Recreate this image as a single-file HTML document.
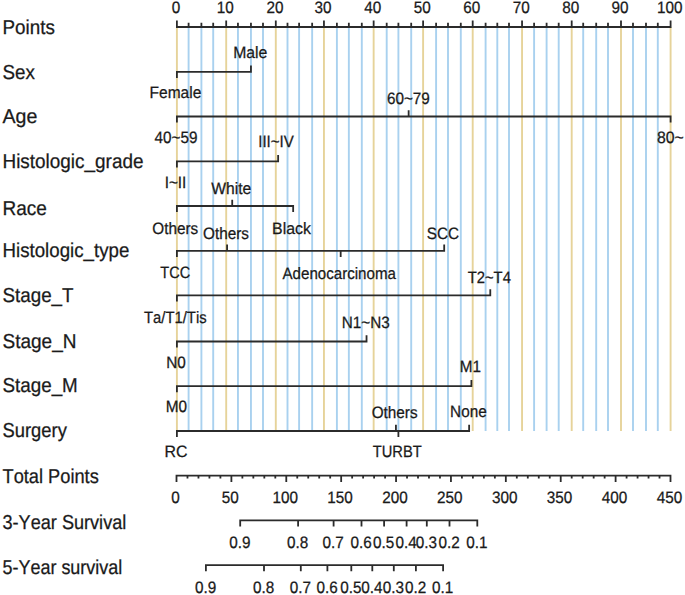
<!DOCTYPE html>
<html><head><meta charset="utf-8"><style>
html,body{margin:0;padding:0;background:#fff;}
body{width:685px;height:595px;overflow:hidden;font-family:"Liberation Sans", sans-serif;}
svg{display:block;}
</style></head><body>
<svg width="685" height="595" viewBox="0 0 685 595"><rect width="685" height="595" fill="#fff"/><g><line x1="176.90" y1="27.00" x2="176.90" y2="431.00" stroke="#e6d39a" stroke-width="1.9"/><line x1="188.60" y1="27.00" x2="188.60" y2="431.00" stroke="#a9d1ef" stroke-width="1.9"/><line x1="201.40" y1="27.00" x2="201.40" y2="431.00" stroke="#a9d1ef" stroke-width="1.9"/><line x1="213.20" y1="27.00" x2="213.20" y2="431.00" stroke="#a9d1ef" stroke-width="1.9"/><line x1="226.20" y1="27.00" x2="226.20" y2="431.00" stroke="#e6d39a" stroke-width="1.9"/><line x1="237.95" y1="27.00" x2="237.95" y2="431.00" stroke="#a9d1ef" stroke-width="1.9"/><line x1="250.95" y1="27.00" x2="250.95" y2="431.00" stroke="#a9d1ef" stroke-width="1.9"/><line x1="263.00" y1="27.00" x2="263.00" y2="431.00" stroke="#a9d1ef" stroke-width="1.9"/><line x1="275.80" y1="27.00" x2="275.80" y2="431.00" stroke="#e6d39a" stroke-width="1.9"/><line x1="287.50" y1="27.00" x2="287.50" y2="431.00" stroke="#a9d1ef" stroke-width="1.9"/><line x1="299.10" y1="27.00" x2="299.10" y2="431.00" stroke="#a9d1ef" stroke-width="1.9"/><line x1="312.15" y1="27.00" x2="312.15" y2="431.00" stroke="#a9d1ef" stroke-width="1.9"/><line x1="323.95" y1="27.00" x2="323.95" y2="431.00" stroke="#e6d39a" stroke-width="1.9"/><line x1="336.90" y1="27.00" x2="336.90" y2="431.00" stroke="#a9d1ef" stroke-width="1.9"/><line x1="348.85" y1="27.00" x2="348.85" y2="431.00" stroke="#a9d1ef" stroke-width="1.9"/><line x1="361.80" y1="27.00" x2="361.80" y2="431.00" stroke="#a9d1ef" stroke-width="1.9"/><line x1="373.65" y1="27.00" x2="373.65" y2="431.00" stroke="#e6d39a" stroke-width="1.9"/><line x1="386.70" y1="27.00" x2="386.70" y2="431.00" stroke="#a9d1ef" stroke-width="1.9"/><line x1="398.40" y1="27.00" x2="398.40" y2="431.00" stroke="#a9d1ef" stroke-width="1.9"/><line x1="411.20" y1="27.00" x2="411.20" y2="431.00" stroke="#a9d1ef" stroke-width="1.9"/><line x1="423.10" y1="27.00" x2="423.10" y2="431.00" stroke="#e6d39a" stroke-width="1.9"/><line x1="436.10" y1="27.00" x2="436.10" y2="431.00" stroke="#a9d1ef" stroke-width="1.9"/><line x1="448.00" y1="27.00" x2="448.00" y2="431.00" stroke="#a9d1ef" stroke-width="1.9"/><line x1="460.80" y1="27.00" x2="460.80" y2="431.00" stroke="#a9d1ef" stroke-width="1.9"/><line x1="472.70" y1="27.00" x2="472.70" y2="431.00" stroke="#e6d39a" stroke-width="1.9"/><line x1="485.60" y1="27.00" x2="485.60" y2="431.00" stroke="#a9d1ef" stroke-width="1.9"/><line x1="497.30" y1="27.00" x2="497.30" y2="431.00" stroke="#a9d1ef" stroke-width="1.9"/><line x1="509.00" y1="27.00" x2="509.00" y2="431.00" stroke="#a9d1ef" stroke-width="1.9"/><line x1="522.05" y1="27.00" x2="522.05" y2="431.00" stroke="#e6d39a" stroke-width="1.9"/><line x1="534.10" y1="27.00" x2="534.10" y2="431.00" stroke="#a9d1ef" stroke-width="1.9"/><line x1="546.60" y1="27.00" x2="546.60" y2="431.00" stroke="#a9d1ef" stroke-width="1.9"/><line x1="558.70" y1="27.00" x2="558.70" y2="431.00" stroke="#a9d1ef" stroke-width="1.9"/><line x1="571.70" y1="27.00" x2="571.70" y2="431.00" stroke="#e6d39a" stroke-width="1.9"/><line x1="583.20" y1="27.00" x2="583.20" y2="431.00" stroke="#a9d1ef" stroke-width="1.9"/><line x1="596.20" y1="27.00" x2="596.20" y2="431.00" stroke="#a9d1ef" stroke-width="1.9"/><line x1="608.00" y1="27.00" x2="608.00" y2="431.00" stroke="#a9d1ef" stroke-width="1.9"/><line x1="621.00" y1="27.00" x2="621.00" y2="431.00" stroke="#e6d39a" stroke-width="1.9"/><line x1="633.00" y1="27.00" x2="633.00" y2="431.00" stroke="#a9d1ef" stroke-width="1.9"/><line x1="646.00" y1="27.00" x2="646.00" y2="431.00" stroke="#a9d1ef" stroke-width="1.9"/><line x1="657.80" y1="27.00" x2="657.80" y2="431.00" stroke="#a9d1ef" stroke-width="1.9"/><line x1="670.60" y1="27.00" x2="670.60" y2="431.00" stroke="#e6d39a" stroke-width="1.9"/></g><path d="M176.90 27.00H670.60M176.90 27.00V21.30M188.60 27.00V23.70M201.40 27.00V23.70M213.20 27.00V23.70M226.20 27.00V21.30M237.95 27.00V23.70M250.95 27.00V23.70M263.00 27.00V23.70M275.80 27.00V21.30M287.50 27.00V23.70M299.10 27.00V23.70M312.15 27.00V23.70M323.95 27.00V21.30M336.90 27.00V23.70M348.85 27.00V23.70M361.80 27.00V23.70M373.65 27.00V21.30M386.70 27.00V23.70M398.40 27.00V23.70M411.20 27.00V23.70M423.10 27.00V21.30M436.10 27.00V23.70M448.00 27.00V23.70M460.80 27.00V23.70M472.70 27.00V21.30M485.60 27.00V23.70M497.30 27.00V23.70M509.00 27.00V23.70M522.05 27.00V21.30M534.10 27.00V23.70M546.60 27.00V23.70M558.70 27.00V23.70M571.70 27.00V21.30M583.20 27.00V23.70M596.20 27.00V23.70M608.00 27.00V23.70M621.00 27.00V21.30M633.00 27.00V23.70M646.00 27.00V23.70M657.80 27.00V23.70M670.60 27.00V21.30M176.90 71.80H250.95M176.90 71.80V77.00M250.95 71.80V66.40M176.90 116.50H670.60M176.90 116.50V121.70M408.64 116.50V111.10M670.60 116.50V121.70M176.90 161.40H278.14M176.90 161.40V166.60M278.14 161.40V156.00M176.90 206.00H293.16M176.90 206.00V211.20M232.22 206.00V200.60M293.16 206.00V211.20M176.90 250.80H444.19M176.90 250.80V256.00M227.09 250.80V245.40M340.68 250.80V256.00M444.19 250.80V245.40M176.90 295.45H490.28M176.90 295.45V300.65M490.28 295.45V290.05M176.90 341.50H366.54M176.90 341.50V346.70M366.54 341.50V336.10M176.90 386.20H471.41M176.90 386.20V391.40M471.41 386.20V380.80M176.90 431.00H469.13M176.90 431.00V436.20M398.40 431.00V436.20M395.92 431.00V425.60M469.13 431.00V425.60M176.50 475.70H670.50M176.50 475.70V481.00M187.48 475.70V477.60M198.46 475.70V477.60M209.43 475.70V477.60M220.41 475.70V477.60M231.39 475.70V481.00M242.37 475.70V477.60M253.34 475.70V477.60M264.32 475.70V477.60M275.30 475.70V477.60M286.28 475.70V481.00M297.26 475.70V477.60M308.23 475.70V477.60M319.21 475.70V477.60M330.19 475.70V477.60M341.17 475.70V481.00M352.14 475.70V477.60M363.12 475.70V477.60M374.10 475.70V477.60M385.08 475.70V477.60M396.06 475.70V481.00M407.03 475.70V477.60M418.01 475.70V477.60M428.99 475.70V477.60M439.97 475.70V477.60M450.94 475.70V481.00M461.92 475.70V477.60M472.90 475.70V477.60M483.88 475.70V477.60M494.86 475.70V477.60M505.83 475.70V481.00M516.81 475.70V477.60M527.79 475.70V477.60M538.77 475.70V477.60M549.74 475.70V477.60M560.72 475.70V481.00M571.70 475.70V477.60M582.68 475.70V477.60M593.66 475.70V477.60M604.63 475.70V477.60M615.61 475.70V481.00M626.59 475.70V477.60M637.57 475.70V477.60M648.54 475.70V477.60M659.52 475.70V477.60M670.50 475.70V481.00M240.20 520.45H477.30M240.20 520.45V525.55M298.10 520.45V525.55M333.60 520.45V525.55M361.50 520.45V525.55M384.10 520.45V525.55M406.60 520.45V525.55M426.80 520.45V525.55M449.50 520.45V525.55M477.30 520.45V525.55M205.90 565.20H443.10M205.90 565.20V570.30M264.00 565.20V570.30M300.80 565.20V570.30M327.40 565.20V570.30M351.30 565.20V570.30M372.30 565.20V570.30M393.80 565.20V570.30M415.90 565.20V570.30M443.10 565.20V570.30" stroke="#2b2b2b" stroke-width="1.8" fill="none" stroke-linecap="square"/><g font-family="Liberation Sans, sans-serif" fill="#1a1a1a" stroke="#1a1a1a" stroke-width="0.25" style="font-kerning:none;text-rendering:geometricPrecision"><text transform="translate(176.00 12.90) scale(1.0 1.08)" font-size="15.3" text-anchor="middle">0</text><text transform="translate(225.30 12.90) scale(1.0 1.08)" font-size="15.3" text-anchor="middle">10</text><text transform="translate(274.90 12.90) scale(1.0 1.08)" font-size="15.3" text-anchor="middle">20</text><text transform="translate(323.05 12.90) scale(1.0 1.08)" font-size="15.3" text-anchor="middle">30</text><text transform="translate(372.75 12.90) scale(1.0 1.08)" font-size="15.3" text-anchor="middle">40</text><text transform="translate(422.20 12.90) scale(1.0 1.08)" font-size="15.3" text-anchor="middle">50</text><text transform="translate(471.80 12.90) scale(1.0 1.08)" font-size="15.3" text-anchor="middle">60</text><text transform="translate(521.15 12.90) scale(1.0 1.08)" font-size="15.3" text-anchor="middle">70</text><text transform="translate(570.80 12.90) scale(1.0 1.08)" font-size="15.3" text-anchor="middle">80</text><text transform="translate(620.10 12.90) scale(1.0 1.08)" font-size="15.3" text-anchor="middle">90</text><text transform="translate(669.70 12.90) scale(1.0 1.08)" font-size="15.3" text-anchor="middle">100</text><text transform="translate(175.40 98.30) scale(1.014 1.08)" font-size="15.3" text-anchor="middle">Female</text><text transform="translate(250.30 58.10) scale(1.03 1.08)" font-size="15.3" text-anchor="middle">Male</text><text transform="translate(176.00 142.90) scale(1.0 1.08)" font-size="15.3" text-anchor="middle">40~59</text><text transform="translate(408.40 103.60) scale(1.0 1.08)" font-size="15.3" text-anchor="middle">60~79</text><text transform="translate(670.30 142.80) scale(1.035 1.08)" font-size="15.3" text-anchor="middle">80~</text><text transform="translate(175.50 187.50) scale(1.0 1.08)" font-size="15.3" text-anchor="middle">I~II</text><text transform="translate(276.00 146.90) scale(0.985 1.08)" font-size="15.3" text-anchor="middle">III~IV</text><text transform="translate(175.20 234.00) scale(1.0 1.08)" font-size="15.3" text-anchor="middle">Others</text><text transform="translate(231.30 194.00) scale(1.023 1.08)" font-size="15.3" text-anchor="middle">White</text><text transform="translate(291.50 233.60) scale(1.04 1.08)" font-size="15.3" text-anchor="middle">Black</text><text transform="translate(175.30 278.00) scale(0.95 1.08)" font-size="15.3" text-anchor="middle">TCC</text><text transform="translate(226.00 238.90) scale(1.0 1.08)" font-size="15.3" text-anchor="middle">Others</text><text transform="translate(339.20 278.90) scale(0.988 1.08)" font-size="15.3" text-anchor="middle">Adenocarcinoma</text><text transform="translate(443.00 238.80) scale(1.0 1.08)" font-size="15.3" text-anchor="middle">SCC</text><text transform="translate(175.30 323.00) scale(0.97 1.08)" font-size="15.3" text-anchor="middle">Ta/T1/Tis</text><text transform="translate(489.30 282.60) scale(0.965 1.08)" font-size="15.3" text-anchor="middle">T2~T4</text><text transform="translate(176.10 368.10) scale(1.0 1.08)" font-size="15.3" text-anchor="middle">N0</text><text transform="translate(365.80 328.00) scale(1.0 1.08)" font-size="15.3" text-anchor="middle">N1~N3</text><text transform="translate(176.30 412.10) scale(1.0 1.08)" font-size="15.3" text-anchor="middle">M0</text><text transform="translate(470.40 372.20) scale(1.0 1.08)" font-size="15.3" text-anchor="middle">M1</text><text transform="translate(176.10 457.30) scale(1.04 1.08)" font-size="15.3" text-anchor="middle">RC</text><text transform="translate(397.20 456.90) scale(0.96 1.08)" font-size="15.3" text-anchor="middle">TURBT</text><text transform="translate(394.60 417.70) scale(1.0 1.08)" font-size="15.3" text-anchor="middle">Others</text><text transform="translate(468.40 417.10) scale(1.0 1.08)" font-size="15.3" text-anchor="middle">None</text><text transform="translate(175.40 503.10) scale(1.0 1.08)" font-size="15.3" text-anchor="middle">0</text><text transform="translate(230.29 503.10) scale(1.0 1.08)" font-size="15.3" text-anchor="middle">50</text><text transform="translate(285.18 503.10) scale(1.0 1.08)" font-size="15.3" text-anchor="middle">100</text><text transform="translate(340.07 503.10) scale(1.0 1.08)" font-size="15.3" text-anchor="middle">150</text><text transform="translate(394.96 503.10) scale(1.0 1.08)" font-size="15.3" text-anchor="middle">200</text><text transform="translate(449.84 503.10) scale(1.0 1.08)" font-size="15.3" text-anchor="middle">250</text><text transform="translate(504.73 503.10) scale(1.0 1.08)" font-size="15.3" text-anchor="middle">300</text><text transform="translate(559.62 503.10) scale(1.0 1.08)" font-size="15.3" text-anchor="middle">350</text><text transform="translate(614.51 503.10) scale(1.0 1.08)" font-size="15.3" text-anchor="middle">400</text><text transform="translate(669.40 503.10) scale(1.0 1.08)" font-size="15.3" text-anchor="middle">450</text><text transform="translate(239.80 547.50) scale(1.0 1.08)" font-size="15.3" text-anchor="middle">0.9</text><text transform="translate(297.70 547.50) scale(1.0 1.08)" font-size="15.3" text-anchor="middle">0.8</text><text transform="translate(333.20 547.50) scale(1.0 1.08)" font-size="15.3" text-anchor="middle">0.7</text><text transform="translate(361.10 547.50) scale(1.0 1.08)" font-size="15.3" text-anchor="middle">0.6</text><text transform="translate(383.70 547.50) scale(1.0 1.08)" font-size="15.3" text-anchor="middle">0.5</text><text transform="translate(406.20 547.50) scale(1.0 1.08)" font-size="15.3" text-anchor="middle">0.4</text><text transform="translate(426.40 547.50) scale(1.0 1.08)" font-size="15.3" text-anchor="middle">0.3</text><text transform="translate(449.10 547.50) scale(1.0 1.08)" font-size="15.3" text-anchor="middle">0.2</text><text transform="translate(476.90 547.50) scale(1.0 1.08)" font-size="15.3" text-anchor="middle">0.1</text><text transform="translate(205.50 593.00) scale(1.0 1.08)" font-size="15.3" text-anchor="middle">0.9</text><text transform="translate(263.60 593.00) scale(1.0 1.08)" font-size="15.3" text-anchor="middle">0.8</text><text transform="translate(300.40 593.00) scale(1.0 1.08)" font-size="15.3" text-anchor="middle">0.7</text><text transform="translate(327.00 593.00) scale(1.0 1.08)" font-size="15.3" text-anchor="middle">0.6</text><text transform="translate(350.90 593.00) scale(1.0 1.08)" font-size="15.3" text-anchor="middle">0.5</text><text transform="translate(371.90 593.00) scale(1.0 1.08)" font-size="15.3" text-anchor="middle">0.4</text><text transform="translate(393.40 593.00) scale(1.0 1.08)" font-size="15.3" text-anchor="middle">0.3</text><text transform="translate(415.50 593.00) scale(1.0 1.08)" font-size="15.3" text-anchor="middle">0.2</text><text transform="translate(442.70 593.00) scale(1.0 1.08)" font-size="15.3" text-anchor="middle">0.1</text><text transform="translate(2.50 34.45) scale(0.992 1.06)" font-size="19" text-anchor="start">Points</text><text transform="translate(2.50 79.18) scale(0.987 1.06)" font-size="19" text-anchor="start">Sex</text><text transform="translate(2.50 123.13) scale(1.03 1.06)" font-size="19" text-anchor="start">Age</text><text transform="translate(2.50 167.58) scale(0.996 1.06)" font-size="19" text-anchor="start">Histologic_grade</text><text transform="translate(2.50 214.79) scale(1.0 1.06)" font-size="19" text-anchor="start">Race</text><text transform="translate(2.50 256.78) scale(0.984 1.06)" font-size="19" text-anchor="start">Histologic_type</text><text transform="translate(2.50 302.26) scale(0.989 1.06)" font-size="19" text-anchor="start">Stage_T</text><text transform="translate(2.50 347.96) scale(1.0 1.06)" font-size="19" text-anchor="start">Stage_N</text><text transform="translate(2.50 392.08) scale(0.99 1.06)" font-size="19" text-anchor="start">Stage_M</text><text transform="translate(2.50 436.88) scale(0.967 1.06)" font-size="19" text-anchor="start">Surgery</text><text transform="translate(2.50 483.30) scale(0.96 1.06)" font-size="19" text-anchor="start">Total Points</text><text transform="translate(2.50 529.13) scale(0.953 1.06)" font-size="19" text-anchor="start">3-Year Survival</text><text transform="translate(2.50 573.93) scale(0.945 1.06)" font-size="19" text-anchor="start">5-Year survival</text></g></svg>
</body></html>
